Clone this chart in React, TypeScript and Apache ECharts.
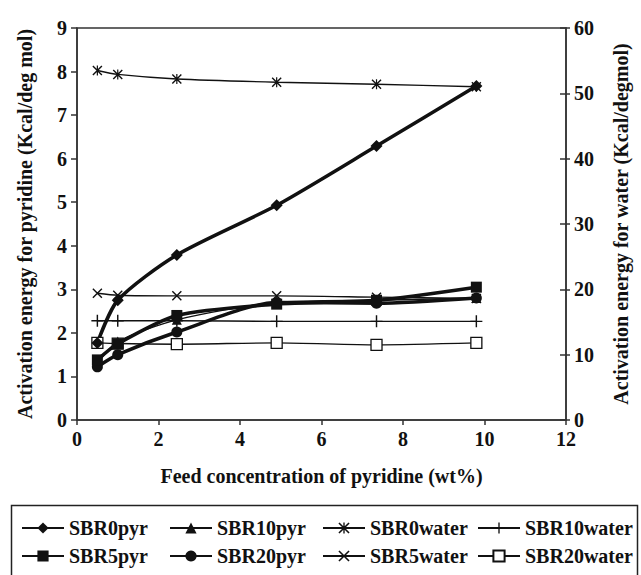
import React, { useEffect, useRef } from "react";
import * as echarts from "echarts";

const xValues = [0.5, 1, 2.45, 4.9, 7.35, 9.8];
const sbr0pyr = [1.77, 2.75, 3.79, 4.93, 6.29, 7.67];
const sbr10pyr = [1.3, 1.8, 2.3, 2.7, 2.75, 2.8];
const sbr5pyr = [1.38, 1.75, 2.4, 2.66, 2.75, 3.05];
const sbr20pyr = [1.22, 1.5, 2.02, 2.7, 2.68, 2.8];
const sbr0water = [53.5, 52.9, 52.2, 51.7, 51.4, 51.0];
const sbr10water = [15.2, 15.2, 15.2, 15.1, 15.1, 15.1];
const sbr5water = [19.4, 19.1, 19.0, 19.0, 18.8, 18.6];
const sbr20water = [11.8, 11.7, 11.6, 11.8, 11.5, 11.8];

const FONT = "'Liberation Serif', 'Times New Roman', serif";

const X_SYM = "path://M0,1 L1,0 L10,9 L9,10 Z M9,0 L10,1 L1,10 L0,9 Z";
const PLUS_SYM = "path://M4.4,0 L5.6,0 L5.6,4.4 L10,4.4 L10,5.6 L5.6,5.6 L5.6,10 L4.4,10 L4.4,5.6 L0,5.6 L0,4.4 L4.4,4.4 Z";
const AST_SYM = "path://M0,1 L1,0 L10,9 L9,10 Z M9,0 L10,1 L1,10 L0,9 Z M4.4,0 L5.6,0 L5.6,10 L4.4,10 Z";

const zip = (ys: number[]) => xValues.map((x, i) => [x, ys[i]]);

export default function App() {
  const ref = useRef<HTMLDivElement>(null);
  useEffect(() => {
    if (!ref.current) return;
    const chart = echarts.init(ref.current, null, { renderer: "svg" });
    const thick = 3.5;
    const thin = 1.4;
    const mk = (name: string, ys: number[], yAxisIndex: number, width: number, symbol: string, size: number, fill = "#111") => ({
      name,
      type: "line",
      data: zip(ys),
      yAxisIndex,
      smooth: 0.25,
      symbol,
      symbolSize: size,
      showAllSymbol: true,
      lineStyle: { color: "#111", width },
      itemStyle: { color: fill, borderColor: "#111", borderWidth: fill === "#fff" ? 1.3 : 0 },
      emphasis: { disabled: true },
      z: 2,
    });
    const series = [
      mk("SBR0water", sbr0water, 1, thin, AST_SYM, 10),
      mk("SBR10water", sbr10water, 1, thin, PLUS_SYM, 12),
      mk("SBR20water", sbr20water, 1, thin, "rect", 11, "#fff"),
      mk("SBR5water", sbr5water, 1, thin, X_SYM, 10),
      mk("SBR10pyr", sbr10pyr, 0, thin, "triangle", 10),
      mk("SBR20pyr", sbr20pyr, 0, thick, "circle", 11),
      mk("SBR5pyr", sbr5pyr, 0, thick, "rect", 11),
      mk("SBR0pyr", sbr0pyr, 0, thick, "diamond", 12),
    ];
    const cols = [21, 169, 322, 477];
    const rows = [530, 558];
    const legendNames = [
      ["SBR0pyr", "SBR10pyr", "SBR0water", "SBR10water"],
      ["SBR5pyr", "SBR20pyr", "SBR5water", "SBR20water"],
    ];
    const legends: any[] = [];
    legendNames.forEach((row, r) =>
      row.forEach((name, c) => {
        legends.push({
          data: [name],
          left: cols[c],
          top: rows[r] - 12,
          padding: 0,
          itemWidth: 42,
          itemHeight: 14,
          itemGap: 0,
          selectedMode: false,
          textStyle: { fontFamily: FONT, fontWeight: "bold", fontSize: 20, color: "#111", padding: [0, 0, 0, 0] },
        });
      })
    );
    const axisLabel = { fontFamily: FONT, fontWeight: "bold", fontSize: 20, color: "#111" };
    const nameTextStyle = { fontFamily: FONT, fontWeight: "bold", fontSize: 20, color: "#111" };
    chart.setOption({
      animation: false,
      backgroundColor: "#fff",
      grid: { left: 77, right: 75, top: 28, bottom: 155, show: true, borderColor: "#333", borderWidth: 1.5, backgroundColor: "transparent" },
      legend: legends,
      xAxis: {
        type: "value",
        min: 0,
        max: 12,
        interval: 2,
        name: "Feed concentration of pyridine (wt%)",
        nameLocation: "middle",
        nameGap: 46,
        nameTextStyle,
        axisLine: { show: true, lineStyle: { color: "#333", width: 1.5 } },
        axisTick: { show: true, length: 5, lineStyle: { color: "#333", width: 1.5 } },
        axisLabel: { ...axisLabel, margin: 9 },
        splitLine: { show: false },
      },
      yAxis: [
        {
          type: "value",
          min: 0,
          max: 9,
          interval: 1,
          position: "left",
          name: "Activation energy for pyridine (Kcal/deg mol)",
          nameLocation: "middle",
          nameGap: 42,
          nameRotate: 90,
          nameTextStyle,
          axisLine: { show: true, lineStyle: { color: "#333", width: 1.5 } },
          axisTick: { show: true, length: 6, lineStyle: { color: "#333", width: 1.5 } },
          axisLabel: { ...axisLabel, margin: 10 },
          splitLine: { show: false },
        },
        {
          type: "value",
          min: 0,
          max: 60,
          interval: 10,
          position: "right",
          name: "Activation energy for water (Kcal/degmol)",
          nameLocation: "middle",
          nameGap: 45,
          nameRotate: 90,
          nameTextStyle,
          axisLine: { show: true, lineStyle: { color: "#333", width: 1.5 } },
          axisTick: { show: true, length: 4, lineStyle: { color: "#333", width: 1.5 } },
          axisLabel: { ...axisLabel, margin: 8 },
          splitLine: { show: false },
        },
        {
          type: "value",
          min: 0,
          max: 60,
          interval: 10,
          position: "right",
          axisLine: { show: false },
          axisTick: { show: true, inside: true, length: 6, lineStyle: { color: "#333", width: 1.5 } },
          axisLabel: { show: false },
          splitLine: { show: false },
        },
      ],
      graphic: [
        {
          type: "rect",
          shape: { x: 11.5, y: 505.5, width: 626, height: 90 },
          style: { fill: "none", stroke: "#222", lineWidth: 1.5 },
          silent: true,
        },
      ],
      series,
    });
    return () => chart.dispose();
  }, []);
  return (
    <div
      ref={ref}
      style={{ position: "absolute", left: 0, top: 0, width: 641, height: 575, background: "#fff" }}
    />
  );
}
